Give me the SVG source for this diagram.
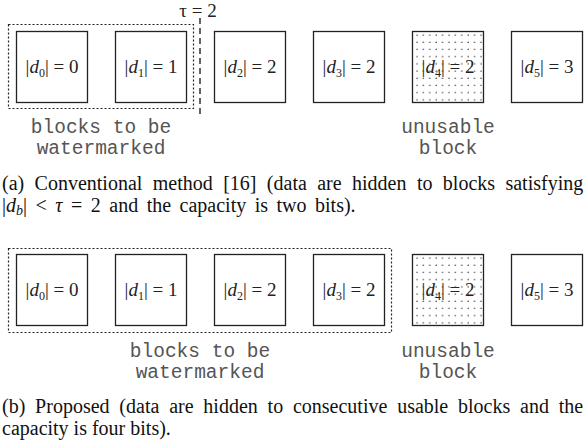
<svg xmlns="http://www.w3.org/2000/svg" width="585" height="447" viewBox="0 0 585 447">
  <style>
    .blk { fill: #fff; stroke: #222; stroke-width: 1.3; }
    .grp { fill: none; stroke: #222; stroke-width: 1.2; stroke-dasharray: 2 2; }
    .thr { fill: none; stroke: #222; stroke-width: 1.4; stroke-dasharray: 6 4; }
    .lbl { font-family: "Liberation Serif", "Times New Roman", serif; font-size: 19px; fill: #222; text-anchor: middle; }
    .sub { font-size: 12px; }
    .it { font-style: italic; }
    .note { font-family: "Liberation Mono", "Courier New", monospace; font-size: 19.5px; fill: #555; text-anchor: middle; }
    .cap { font-family: "Liberation Serif", "Times New Roman", serif; font-size: 20px; fill: #111; }
  </style>
  <defs>
    <pattern id="dots" width="6.4" height="7.2" patternUnits="userSpaceOnUse" x="415" y="33">
      <circle cx="2" cy="2" r="0.75" fill="#444"/>
    </pattern>
    <pattern id="dotsB" width="6.4" height="7.2" patternUnits="userSpaceOnUse" x="415" y="256">
      <circle cx="2" cy="2" r="0.75" fill="#444"/>
    </pattern>
  </defs>

  <!-- (a) conventional method -->
  <g id="a-group">
    <rect class="grp" x="8.5" y="24.5" width="185" height="84"/>
  </g>
  <g id="a-threshold">
    <line class="thr" x1="200" y1="18" x2="200" y2="117"/>
    <text class="lbl" x="198" y="17">τ = 2</text>
  </g>
  <g id="a-d0">
    <rect class="blk" x="16.5" y="31.5" width="71" height="71"/>
    <text class="lbl" x="52" y="73">|<tspan class="it">d</tspan><tspan class="sub" dy="4">0</tspan><tspan dy="-4">| = 0</tspan></text>
  </g>
  <g id="a-d1">
    <rect class="blk" x="115.5" y="31.5" width="71" height="71"/>
    <text class="lbl" x="151" y="73">|<tspan class="it">d</tspan><tspan class="sub" dy="4">1</tspan><tspan dy="-4">| = 1</tspan></text>
  </g>
  <g id="a-d2">
    <rect class="blk" x="214.5" y="31.5" width="71" height="71"/>
    <text class="lbl" x="250" y="73">|<tspan class="it">d</tspan><tspan class="sub" dy="4">2</tspan><tspan dy="-4">| = 2</tspan></text>
  </g>
  <g id="a-d3">
    <rect class="blk" x="313.5" y="31.5" width="71" height="71"/>
    <text class="lbl" x="349" y="73">|<tspan class="it">d</tspan><tspan class="sub" dy="4">3</tspan><tspan dy="-4">| = 2</tspan></text>
  </g>
  <g id="a-d4">
    <rect class="blk" x="412.5" y="31.5" width="71" height="71"/>
    <text class="lbl" x="448" y="73">|<tspan class="it">d</tspan><tspan class="sub" dy="4">4</tspan><tspan dy="-4">| = 2</tspan></text>
    <rect x="413" y="32" width="70" height="70" fill="url(#dots)"/>
  </g>
  <g id="a-d5">
    <rect class="blk" x="511.5" y="31.5" width="71" height="71"/>
    <text class="lbl" x="547" y="73">|<tspan class="it">d</tspan><tspan class="sub" dy="4">5</tspan><tspan dy="-4">| = 3</tspan></text>
  </g>
  <g id="a-notes">
    <text class="note" x="101" y="133">blocks to be</text>
    <text class="note" x="101" y="154">watermarked</text>
    <text class="note" x="448" y="133">unusable</text>
    <text class="note" x="448" y="154">block</text>
  </g>
  <g id="a-caption">
    <text class="cap" x="2" y="190" word-spacing="5.4">(a) Conventional method [16] (data are hidden to blocks satisfying</text>
    <text class="cap" x="2" y="212" word-spacing="3.5">|<tspan class="it">d</tspan><tspan class="it" font-size="14" dy="3">b</tspan><tspan dy="-3">|  &lt;  </tspan><tspan class="it">τ</tspan>  =  2 and the capacity is two bits).</text>
  </g>

  <!-- (b) proposed method -->
  <g id="b-group">
    <rect class="grp" x="8.5" y="248.5" width="383" height="84"/>
  </g>
  <g id="b-d0">
    <rect class="blk" x="16.5" y="254.5" width="71" height="71"/>
    <text class="lbl" x="52" y="296">|<tspan class="it">d</tspan><tspan class="sub" dy="4">0</tspan><tspan dy="-4">| = 0</tspan></text>
  </g>
  <g id="b-d1">
    <rect class="blk" x="115.5" y="254.5" width="71" height="71"/>
    <text class="lbl" x="151" y="296">|<tspan class="it">d</tspan><tspan class="sub" dy="4">1</tspan><tspan dy="-4">| = 1</tspan></text>
  </g>
  <g id="b-d2">
    <rect class="blk" x="214.5" y="254.5" width="71" height="71"/>
    <text class="lbl" x="250" y="296">|<tspan class="it">d</tspan><tspan class="sub" dy="4">2</tspan><tspan dy="-4">| = 2</tspan></text>
  </g>
  <g id="b-d3">
    <rect class="blk" x="313.5" y="254.5" width="71" height="71"/>
    <text class="lbl" x="349" y="296">|<tspan class="it">d</tspan><tspan class="sub" dy="4">3</tspan><tspan dy="-4">| = 2</tspan></text>
  </g>
  <g id="b-d4">
    <rect class="blk" x="412.5" y="254.5" width="71" height="71"/>
    <text class="lbl" x="448" y="296">|<tspan class="it">d</tspan><tspan class="sub" dy="4">4</tspan><tspan dy="-4">| = 2</tspan></text>
    <rect x="413" y="255" width="70" height="70" fill="url(#dotsB)"/>
  </g>
  <g id="b-d5">
    <rect class="blk" x="511.5" y="254.5" width="71" height="71"/>
    <text class="lbl" x="547" y="296">|<tspan class="it">d</tspan><tspan class="sub" dy="4">5</tspan><tspan dy="-4">| = 3</tspan></text>
  </g>
  <g id="b-notes">
    <text class="note" x="200" y="357">blocks to be</text>
    <text class="note" x="200" y="378">watermarked</text>
    <text class="note" x="448" y="357">unusable</text>
    <text class="note" x="448" y="378">block</text>
  </g>
  <g id="b-caption">
    <text class="cap" x="2" y="413" word-spacing="4.8">(b) Proposed (data are hidden to consecutive usable blocks and the</text>
    <text class="cap" x="2" y="435">capacity is four bits).</text>
  </g>
</svg>
